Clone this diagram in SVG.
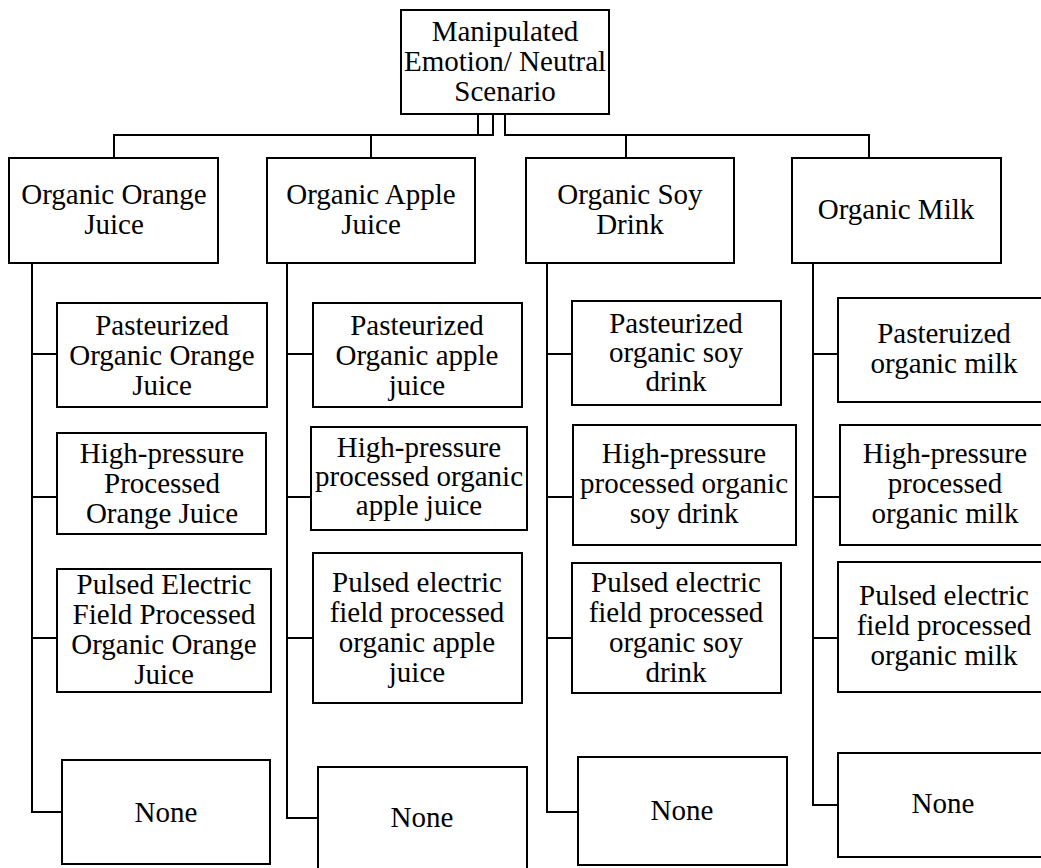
<svg xmlns="http://www.w3.org/2000/svg" width="1041" height="868" viewBox="0 0 1041 868">
<style>
rect{fill:#fff;stroke:#000;stroke-width:2}
text{font-family:"Liberation Serif","Times New Roman",serif;font-size:29px;fill:#000;text-anchor:middle}
#connectors path{fill:none;stroke:#000;stroke-width:2}
</style>
<rect x="0" y="0" width="1041" height="868" style="stroke:none"/>
<g id="connectors">
<path d="M478,114V135M493,114V135H114V158M371,135V158M505,114V135H869V158M626,135V158"/>
<path d="M32,263V812H62M32,354H57M32,497H57M32,638H57"/>
<path d="M287,263V818H318M287,354H313M287,497H311M287,638H313"/>
<path d="M547,263V812H578M547,354H572M547,497H573M547,638H572"/>
<path d="M813,263V805H838M813,354H838M813,497H840M813,638H838"/>
</g>
<g id="root"><rect x="401" y="10" width="208" height="104"/>
<text x="505"><tspan x="505" y="41">Manipulated</tspan><tspan x="505" y="71">Emotion/ Neutral</tspan><tspan x="505" y="101">Scenario</tspan></text></g>
<g id="orange"><rect x="9" y="158" width="209" height="105"/>
<text><tspan x="114" y="204">Organic Orange</tspan><tspan x="114" y="234">Juice</tspan></text></g>
<g id="apple"><rect x="267" y="158" width="208" height="105"/>
<text><tspan x="371" y="204">Organic Apple</tspan><tspan x="371" y="234">Juice</tspan></text></g>
<g id="soy"><rect x="526" y="158" width="208" height="105"/>
<text><tspan x="630" y="204">Organic Soy</tspan><tspan x="630" y="234">Drink</tspan></text></g>
<g id="milk"><rect x="792" y="158" width="209" height="105"/>
<text><tspan x="896" y="219">Organic Milk</tspan></text></g>

<g id="o1"><rect x="57" y="303" width="210" height="104"/>
<text><tspan x="162" y="335">Pasteurized</tspan><tspan x="162" y="365">Organic Orange</tspan><tspan x="162" y="395">Juice</tspan></text></g>
<g id="o2"><rect x="57" y="433" width="209" height="101"/>
<text><tspan x="162" y="463">High-pressure</tspan><tspan x="162" y="493">Processed</tspan><tspan x="162" y="523">Orange Juice</tspan></text></g>
<g id="o3"><rect x="57" y="569" width="214" height="123"/>
<text><tspan x="164" y="594">Pulsed Electric</tspan><tspan x="164" y="624">Field Processed</tspan><tspan x="164" y="654">Organic Orange</tspan><tspan x="164" y="684">Juice</tspan></text></g>
<g id="o4"><rect x="62" y="760" width="208" height="104"/>
<text x="166" y="822">None</text></g>

<g id="a1"><rect x="313" y="303" width="209" height="104"/>
<text><tspan x="417" y="335">Pasteurized</tspan><tspan x="417" y="365">Organic apple</tspan><tspan x="417" y="395">juice</tspan></text></g>
<g id="a2"><rect x="311" y="427" width="216" height="103"/>
<text><tspan x="419" y="457">High-pressure</tspan><tspan x="419" y="486">processed organic</tspan><tspan x="419" y="515">apple juice</tspan></text></g>
<g id="a3"><rect x="313" y="553" width="209" height="150"/>
<text><tspan x="417" y="592">Pulsed electric</tspan><tspan x="417" y="622">field processed</tspan><tspan x="417" y="652">organic apple</tspan><tspan x="417" y="682">juice</tspan></text></g>
<g id="a4"><rect x="318" y="767" width="209" height="104"/>
<text x="422" y="827">None</text></g>

<g id="s1"><rect x="572" y="301" width="209" height="104"/>
<text><tspan x="676" y="333">Pasteurized</tspan><tspan x="676" y="362">organic soy</tspan><tspan x="676" y="391">drink</tspan></text></g>
<g id="s2"><rect x="573" y="425" width="223" height="120"/>
<text><tspan x="684" y="463">High-pressure</tspan><tspan x="684" y="493">processed organic</tspan><tspan x="684" y="523">soy drink</tspan></text></g>
<g id="s3"><rect x="572" y="563" width="209" height="130"/>
<text><tspan x="676" y="592">Pulsed electric</tspan><tspan x="676" y="622">field processed</tspan><tspan x="676" y="652">organic soy</tspan><tspan x="676" y="682">drink</tspan></text></g>
<g id="s4"><rect x="578" y="757" width="209" height="108"/>
<text x="682" y="820">None</text></g>

<g id="m1"><rect x="838" y="298" width="212" height="104"/>
<text><tspan x="944" y="343">Pasteruized</tspan><tspan x="944" y="373">organic milk</tspan></text></g>
<g id="m2"><rect x="840" y="425" width="210" height="120"/>
<text><tspan x="945" y="463">High-pressure</tspan><tspan x="945" y="493">processed</tspan><tspan x="945" y="523">organic milk</tspan></text></g>
<g id="m3"><rect x="838" y="562" width="212" height="130"/>
<text><tspan x="944" y="605">Pulsed electric</tspan><tspan x="944" y="635">field processed</tspan><tspan x="944" y="665">organic milk</tspan></text></g>
<g id="m4"><rect x="838" y="753" width="212" height="104"/>
<text x="943" y="813">None</text></g>
</svg>
